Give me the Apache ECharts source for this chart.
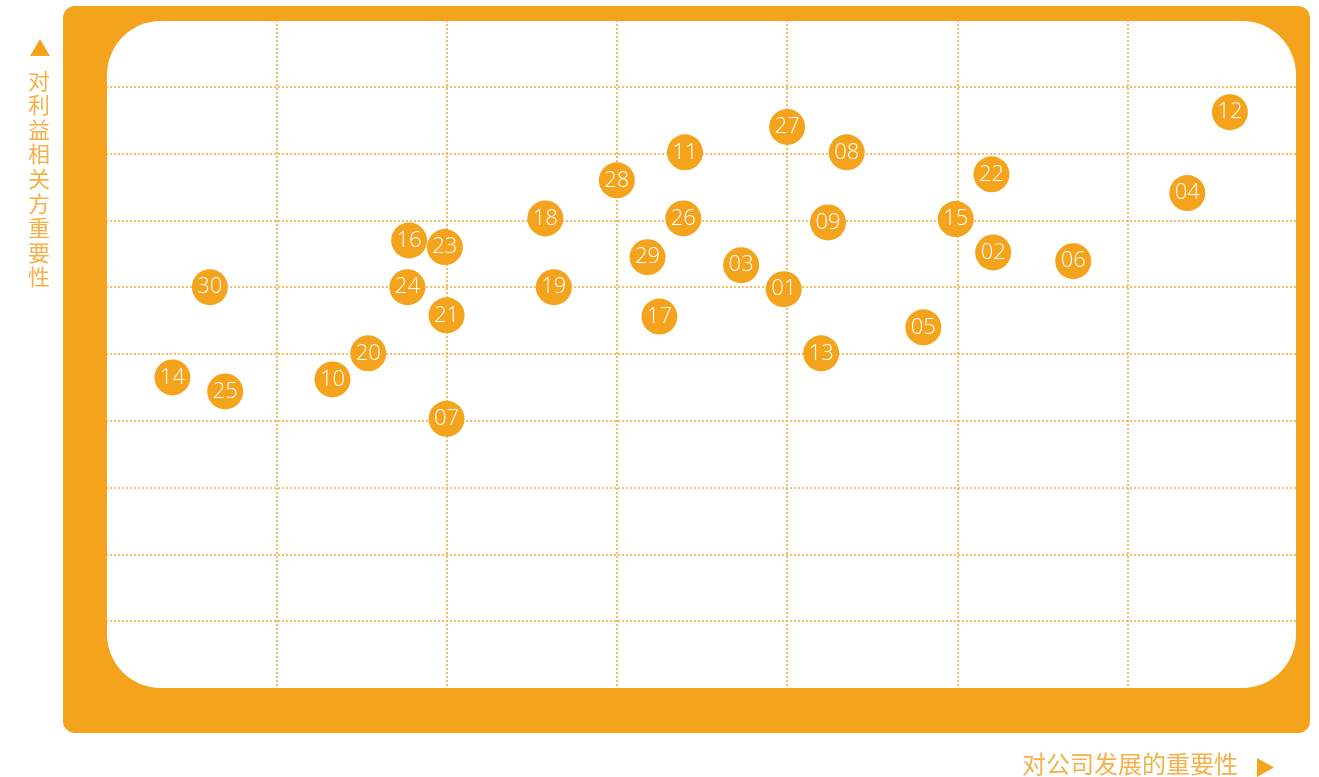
<!DOCTYPE html>
<html><head><meta charset="utf-8">
<script src="https://cdn.jsdelivr.net/npm/echarts@6/dist/echarts.min.js"></script>
<style>html,body{margin:0;padding:0;background:#fff}#c{width:1319px;height:777px}</style>
</head><body><div id="c"></div>
<script>
const ids = ['12','27','11','08','22','28','04','18','26','09','15','16','23','02','29','06','03','30','24','19','01','21','17','05','20','13','14','10','25','07'];
const xVals = [6.60,4.00,3.40,4.35,5.20,3.00,6.35,2.58,3.39,4.24,4.99,1.78,1.99,5.21,3.18,5.68,3.73,0.61,1.77,2.63,3.98,2.00,3.25,4.80,1.54,4.20,0.39,1.33,0.70,2.00];
const yVals = [8.62,8.40,8.02,8.02,7.69,7.60,7.41,7.03,7.03,6.97,7.02,6.70,6.60,6.52,6.45,6.39,6.33,6.00,6.00,6.00,5.97,5.58,5.56,5.40,5.01,5.01,4.65,4.62,4.44,4.03];
const yTitle = '对利益相关方重要性';
const xTitle = '对公司发展的重要性';

const ORANGE = '#f4a31d';
const LIGHT = '#f5b04a';
const GRIDC = '#f4aa33';
const data = ids.map((id, i) => ({name: id, value: [xVals[i], yVals[i]]}));

const chart = echarts.init(document.getElementById('c'), null, {renderer: 'canvas'});
chart.setOption({
  animation: false,
  graphic: [
    {type: 'rect', z: -20, shape: {x: 63, y: 6, width: 1247, height: 727, r: 12}, style: {fill: ORANGE}},
    {type: 'rect', z: -10, shape: {x: 107, y: 21, width: 1189, height: 667, r: 54}, style: {fill: '#fff'}},
    {type: 'polygon', shape: {points: [[30, 56], [50, 56], [40, 39]]}, style: {fill: ORANGE}},
    {type: 'text', left: 28, top: 68, style: {text: yTitle.split('').join('\n'), fill: LIGHT, font: '22px "Noto Sans CJK SC"', lineHeight: 24.6}},
    {type: 'text', left: 1022, top: 752, style: {text: xTitle, fill: LIGHT, font: '24px "Noto Sans CJK SC"'}},
    {type: 'polygon', shape: {points: [[1257, 758], [1257, 777], [1274, 767.5]]}, style: {fill: ORANGE}}
  ],
  grid: {left: 106, right: 21, top: 20, bottom: 89},
  xAxis: {
    type: 'value', min: 0, max: 7, interval: 1,
    axisLine: {show: false}, axisTick: {show: false}, axisLabel: {show: false},
    splitLine: {show: true, showMinLine: false, showMaxLine: false, lineStyle: {color: GRIDC, type: [2, 2], width: 1.5}}
  },
  yAxis: {
    type: 'value', min: 0, max: 10, interval: 1,
    axisLine: {show: false}, axisTick: {show: false}, axisLabel: {show: false},
    splitLine: {show: true, showMinLine: false, showMaxLine: false, lineStyle: {color: GRIDC, type: [2, 2], width: 1.5}}
  },
  series: [{
    type: 'scatter',
    symbolSize: 36,
    itemStyle: {color: ORANGE, opacity: 1},
    label: {show: true, position: 'inside', formatter: p => p.name, color: '#fff', fontSize: 22, fontFamily: 'Open Sans', fontWeight: 300},
    data: data
  }]
});
</script></body></html>
